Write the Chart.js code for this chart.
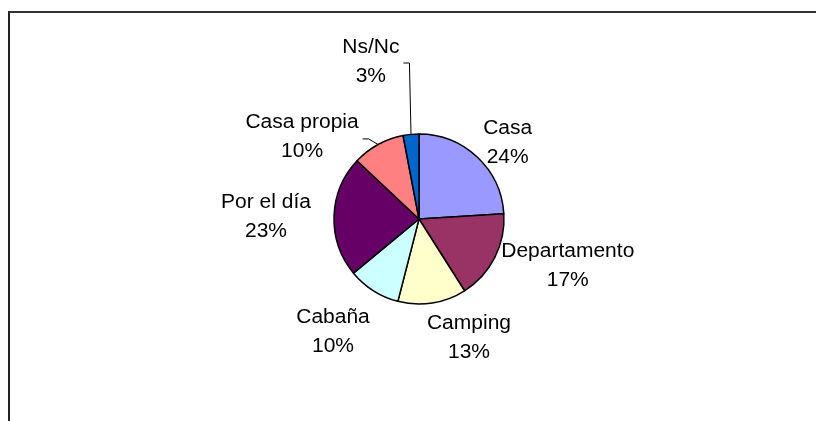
<!DOCTYPE html>
<html>
<head>
<meta charset="utf-8">
<script src="https://cdn.jsdelivr.net/npm/chart.js@4"></script>
<style>
  html, body { margin: 0; padding: 0; background: #fff; overflow: hidden; }
  #wrap { position: relative; width: 816px; height: 421px; }
  #frame { position: absolute; left: 8px; top: 11px; width: 900px; height: 500px;
           border-top: 2px solid #333; border-left: 2px solid #222; }
  canvas { position: absolute; left: 0; top: 0; }
</style>
</head>
<body>
<div id="wrap">
  <div id="frame"></div>
  <canvas id="chart" width="816" height="421"></canvas>
</div>
<script>
// slices, clockwise from 12 o'clock
const categories = ['Casa', 'Departamento', 'Camping', 'Cabaña', 'Por el día', 'Casa propia', 'Ns/Nc'];
const values = [24, 17, 13, 10, 23, 10, 3];
const colors = ['#9999FF', '#993366', '#FFFFCC', '#CCFFFF', '#660066', '#FF8080', '#0066CC'];

// label placement: angle shift from slice middle (deg), distance from pie centre (px)
const labelAngleShift = [6.1, -9.5, -13.7, 5, -1.2, -26.3, -11.6];
const labelDist = [117, 156, 129.5, 141.6, 153, 142.6, 164.7];
const withLeader = [false, false, false, false, false, true, true];

const FONT = '20px "Liberation Sans", Arial, sans-serif';
const STRETCH = 1.05;
const LINE_H = 29;

const pieLabels = {
  id: 'pieLabels',
  afterDraw(chart) {
    const ctx = chart.ctx;
    const arcs = chart.getDatasetMeta(0).data;
    const total = values.reduce((s, v) => s + v, 0);
    ctx.save();
    ctx.font = FONT;
    ctx.fillStyle = '#000';
    ctx.textAlign = 'center';
    ctx.textBaseline = 'middle';
    arcs.forEach((arc, i) => {
      const p = arc.getProps(['x', 'y', 'startAngle', 'endAngle', 'outerRadius'], true);
      const mid = (p.startAngle + p.endAngle) / 2;
      const a = mid + labelAngleShift[i] * Math.PI / 180;
      const cx = p.x + Math.cos(a) * labelDist[i];
      const cy = p.y + Math.sin(a) * labelDist[i];
      const lines = [categories[i], Math.round(values[i] / total * 100) + '%'];
      let w = 0;
      lines.forEach((t, k) => {
        w = Math.max(w, ctx.measureText(t).width * STRETCH);
        ctx.save();
        ctx.translate(cx, cy + (k - 0.5) * LINE_H);
        ctx.scale(STRETCH, 1);
        ctx.fillText(t, 0, 0);
        ctx.restore();
      });
      if (withLeader[i]) {
        const ex = p.x + Math.cos(mid) * p.outerRadius;
        const ey = p.y + Math.sin(mid) * p.outerRadius;
        const sx = cx + w / 2 + 4, sy = cy + 1.5;
        ctx.save();
        ctx.strokeStyle = '#000';
        ctx.lineWidth = 1;
        ctx.beginPath();
        ctx.moveTo(sx, sy);
        ctx.lineTo(sx + 6, sy);
        ctx.lineTo(ex, ey);
        ctx.stroke();
        ctx.restore();
      }
    });
    ctx.restore();
  }
};

new Chart(document.getElementById('chart'), {
  type: 'pie',
  data: {
    labels: categories,
    datasets: [{ data: values, backgroundColor: colors, borderColor: '#000', borderWidth: 1.5 }]
  },
  options: {
    responsive: false,
    animation: false,
    radius: 85,
    layout: { padding: { left: 222, right: 200, top: 117, bottom: 100 } },
    plugins: { legend: { display: false }, tooltip: { enabled: false } }
  },
  plugins: [pieLabels]
});
</script>
</body>
</html>
